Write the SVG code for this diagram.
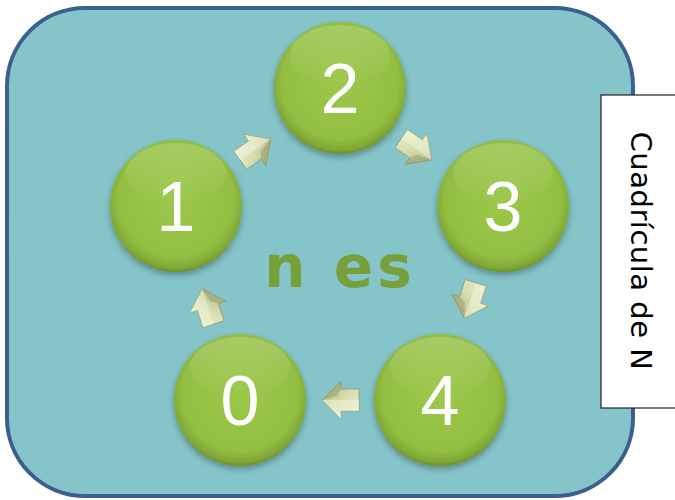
<svg xmlns="http://www.w3.org/2000/svg" width="675" height="500" viewBox="0 0 675 500">
  <defs>
    <radialGradient id="gBall" cx="50%" cy="45%" r="55%">
      <stop offset="0" stop-color="#9cc84a"/>
      <stop offset="0.8" stop-color="#92bf42"/>
      <stop offset="0.95" stop-color="#7ea636"/>
      <stop offset="1" stop-color="#6b8f2b"/>
    </radialGradient>
    <linearGradient id="gHi" x1="0" y1="0" x2="0" y2="1">
      <stop offset="0" stop-color="#ffffff" stop-opacity="0.18"/>
      <stop offset="1" stop-color="#ffffff" stop-opacity="0"/>
    </linearGradient>
    <linearGradient id="gArr" x1="0" y1="0" x2="1" y2="1">
      <stop offset="0" stop-color="#eff2d4"/>
      <stop offset="0.5" stop-color="#d6dbaf"/>
      <stop offset="1" stop-color="#a4a978"/>
    </linearGradient>
    <filter id="sh" x="-20%" y="-20%" width="140%" height="150%">
      <feDropShadow dx="0" dy="3" stdDeviation="3" flood-color="#000" flood-opacity="0.3"/>
    </filter>
    <g id="arrow">
      <polygon points="-18,-11 0,-11 0,-19 19,0 0,19 0,11 -18,11" fill="url(#gArr)" stroke="#949a6a" stroke-width="0.8"/>
      <polygon points="-18,-11 0,-11 0,-19 19,0 2,0 -18,0" fill="#f4f5dc" opacity="0.5"/>
      <polygon points="0,11 0,19 19,0 4,4" fill="#8a8e60" opacity="0.4"/>
    </g>
    <style>
      .num { font-family: "Liberation Sans", Arial, sans-serif; font-size: 70px; fill: #ffffff; text-anchor: middle; }
      .ball { fill: url(#gBall); filter: url(#sh); }
      .hi { fill: url(#gHi); }
    </style>
  </defs>

  <rect id="frame" x="7" y="8" width="626" height="488" rx="78" ry="78" fill="#85c4c8" stroke="#3b5f8e" stroke-width="4"/>

  <g id="label">
    <rect x="601" y="95" width="80" height="313" fill="#ffffff" stroke="#222222" stroke-width="1.2"/>
    <text x="0" y="0" transform="translate(631,251) rotate(90)" font-family="'DejaVu Sans', sans-serif" font-size="29" fill="#000000" text-anchor="middle" letter-spacing="0.5">Cuadrícula de N</text>
  </g>

  <g id="connectors">
    <use href="#arrow" transform="translate(255,150) rotate(-35)"/>
    <use href="#arrow" transform="translate(416,149) rotate(35)"/>
    <use href="#arrow" transform="translate(470,300) rotate(108)"/>
    <use href="#arrow" transform="translate(341,400) rotate(180)"/>
    <use href="#arrow" transform="translate(208,307) rotate(-108)"/>
  </g>

  <g id="node2">
    <circle class="ball" cx="340" cy="88" r="66"/>
    <ellipse class="hi" cx="340" cy="55" rx="50" ry="30"/>
    <text class="num" x="340" y="113">2</text>
  </g>
  <g id="node1">
    <circle class="ball" cx="176" cy="206" r="66"/>
    <ellipse class="hi" cx="176" cy="173" rx="50" ry="30"/>
    <text class="num" x="176" y="231">1</text>
  </g>
  <g id="node3">
    <circle class="ball" cx="503" cy="206" r="66"/>
    <ellipse class="hi" cx="503" cy="173" rx="50" ry="30"/>
    <text class="num" x="503" y="231">3</text>
  </g>
  <g id="node4">
    <circle class="ball" cx="440" cy="400" r="66"/>
    <ellipse class="hi" cx="440" cy="367" rx="50" ry="30"/>
    <text class="num" x="440" y="425">4</text>
  </g>
  <g id="node0">
    <circle class="ball" cx="240" cy="400" r="66"/>
    <ellipse class="hi" cx="240" cy="367" rx="50" ry="30"/>
    <text class="num" x="240" y="425">0</text>
  </g>

  <g id="center-text">
    <text x="340" y="287" font-family="'DejaVu Sans', sans-serif" font-weight="bold" font-size="58" fill="#77a03a" text-anchor="middle" letter-spacing="4">n es</text>
  </g>
</svg>
